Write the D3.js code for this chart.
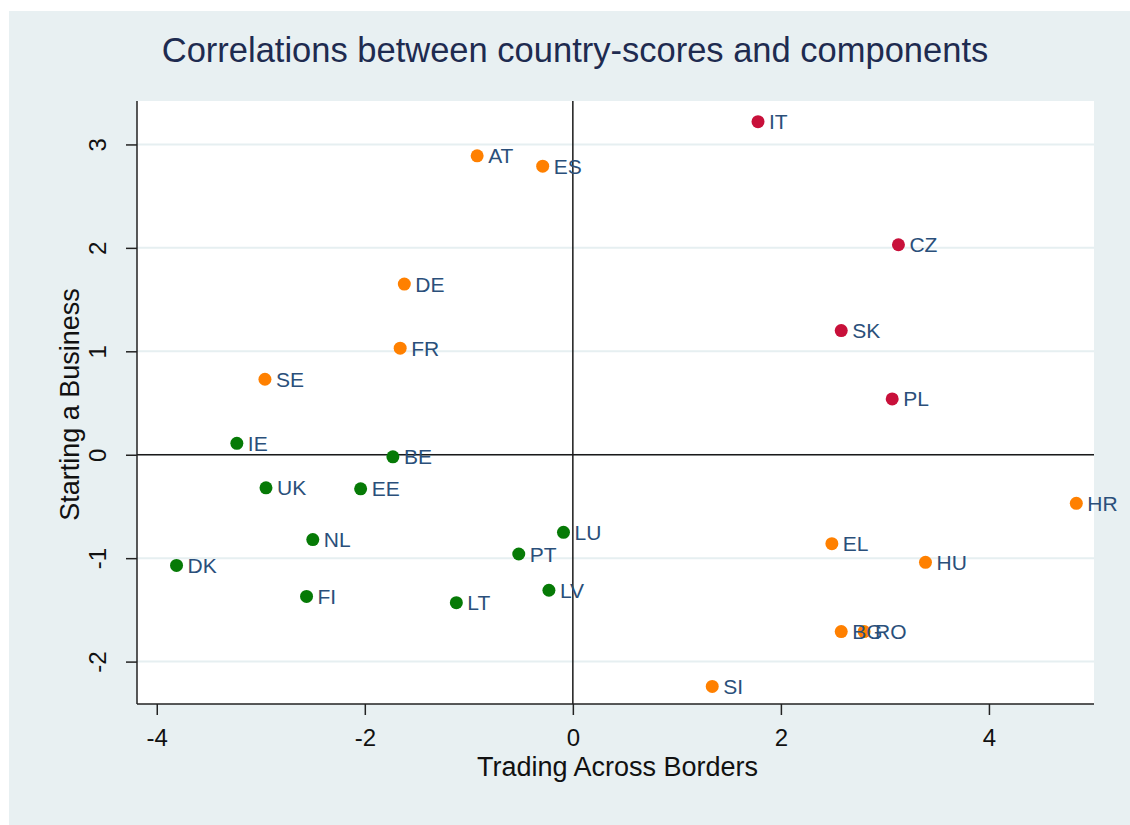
<!DOCTYPE html>
<html>
<head>
<meta charset="utf-8">
<script src="https://cdn.jsdelivr.net/npm/d3@7"></script>
<style>
  html, body { margin: 0; padding: 0; background: #ffffff; }
  svg { display: block; }
</style>
</head>
<body>
<svg id="chart" width="1130" height="825"></svg>
<script>
// Country codes, their scores on the two components, and cluster membership
const countries = ["IT","AT","ES","CZ","DE","SK","FR","SE","PL","IE","BE","UK","EE","NL","DK","FI","LU","PT","LV","LT","HR","EL","HU","BG","RO","SI"];
const tradingAcrossBorders = [1.78,-0.92,-0.29,3.13,-1.62,2.58,-1.66,-2.96,3.07,-3.23,-1.73,-2.95,-2.04,-2.50,-3.81,-2.56,-0.09,-0.52,-0.23,-1.12,4.84,2.49,3.39,2.58,2.80,1.34];
const startingABusiness = [3.22,2.89,2.79,2.03,1.65,1.20,1.03,0.73,0.54,0.11,-0.02,-0.32,-0.33,-0.82,-1.07,-1.37,-0.75,-0.96,-1.31,-1.43,-0.47,-0.86,-1.04,-1.71,-1.71,-2.24];
const cluster = ["red","orange","orange","red","orange","red","orange","orange","red","green","green","green","green","green","green","green","green","green","green","green","orange","orange","orange","orange","orange","orange"];
const xTicks = [-4,-2,0,2,4];
const yTicks = [-2,-1,0,1,2,3];

const clusterColor = { red: "#c8103a", orange: "#ff8000", green: "#067a06" };

const svg = d3.select("#chart");

// Outer graph region
svg.append("rect").attr("x", 9).attr("y", 11).attr("width", 1121).attr("height", 814).attr("fill", "#e8f0f2");

const plot = { left: 137, right: 1094, top: 101, bottom: 704 };

const x = d3.scaleLinear().domain([-4.19, 5.01]).range([plot.left, plot.right]);
const y = d3.scaleLinear().domain([-2.41, 3.42]).range([plot.bottom, plot.top]);

// Plot region
svg.append("rect")
  .attr("x", plot.left).attr("y", plot.top)
  .attr("width", plot.right - plot.left).attr("height", plot.bottom - plot.top)
  .attr("fill", "#ffffff");

// Horizontal gridlines
svg.append("g").selectAll("line").data(yTicks).join("line")
  .attr("x1", plot.left).attr("x2", plot.right)
  .attr("y1", d => y(d)).attr("y2", d => y(d))
  .attr("stroke", "#e6eff1").attr("stroke-width", 2);

// Reference lines at zero
svg.append("line")
  .attr("x1", x(0)).attr("x2", x(0)).attr("y1", plot.top).attr("y2", plot.bottom)
  .attr("stroke", "#1a1a1a").attr("stroke-width", 1.5);
svg.append("line")
  .attr("x1", plot.left).attr("x2", plot.right).attr("y1", y(0)).attr("y2", y(0))
  .attr("stroke", "#1a1a1a").attr("stroke-width", 1.5);

// Axes
const font = "Liberation Sans, Arial, sans-serif";
const fmt = d => String(d);
const xAxis = svg.append("g")
  .attr("transform", `translate(0,${plot.bottom})`)
  .call(d3.axisBottom(x).tickValues(xTicks).tickSize(11).tickPadding(14).tickFormat(fmt));
const yAxis = svg.append("g")
  .attr("transform", `translate(${plot.left},0)`)
  .call(d3.axisLeft(y).tickValues(yTicks).tickSize(11).tickPadding(8).tickFormat(fmt));

[xAxis, yAxis].forEach(g => {
  g.select(".domain").attr("stroke", "#222").attr("stroke-width", 1.5);
  g.selectAll(".tick line").attr("stroke", "#222").attr("stroke-width", 1.5);
  g.selectAll(".tick text").attr("font-family", font).attr("font-size", 24).attr("fill", "#111");
});
xAxis.select(".domain").attr("d", `M${plot.left},0H${plot.right}`);
yAxis.select(".domain").attr("d", `M0,${plot.top}V${plot.bottom}`);

// Rotate y tick labels like the axis title
yAxis.selectAll(".tick text")
  .attr("text-anchor", "middle")
  .attr("x", null).attr("dy", null)
  .attr("transform", "translate(-37,0) rotate(-90)")
  .attr("dominant-baseline", "middle");

// Axis titles
svg.append("text")
  .attr("x", (plot.left + plot.right) / 2 + 2).attr("y", 776)
  .attr("text-anchor", "middle")
  .attr("font-family", font).attr("font-size", 27).attr("fill", "#111")
  .text("Trading Across Borders");
svg.append("text")
  .attr("transform", `translate(79,${(plot.top + plot.bottom) / 2 + 2}) rotate(-90)`)
  .attr("text-anchor", "middle")
  .attr("font-family", font).attr("font-size", 27).attr("fill", "#111")
  .text("Starting a Business");

// Title
svg.append("text")
  .attr("x", 575).attr("y", 62)
  .attr("text-anchor", "middle")
  .attr("font-family", font).attr("font-size", 34.5).attr("fill", "#1e2b50")
  .text("Correlations between country-scores and components");

// Points and labels
const data = countries.map((c, i) => ({
  code: c, tx: tradingAcrossBorders[i], sb: startingABusiness[i], grp: cluster[i]
}));

const pts = svg.append("g");
pts.selectAll("circle").data(data).join("circle")
  .attr("cx", d => x(d.tx)).attr("cy", d => y(d.sb))
  .attr("r", 6.5)
  .attr("fill", d => clusterColor[d.grp]);

pts.selectAll("text").data(data).join("text")
  .attr("x", d => x(d.tx) + 11).attr("y", d => y(d.sb) + 2)
  .attr("dominant-baseline", "middle")
  .attr("font-family", font).attr("font-size", 21).attr("fill", "#2a4f7a")
  .text(d => d.code);
</script>
</body>
</html>
